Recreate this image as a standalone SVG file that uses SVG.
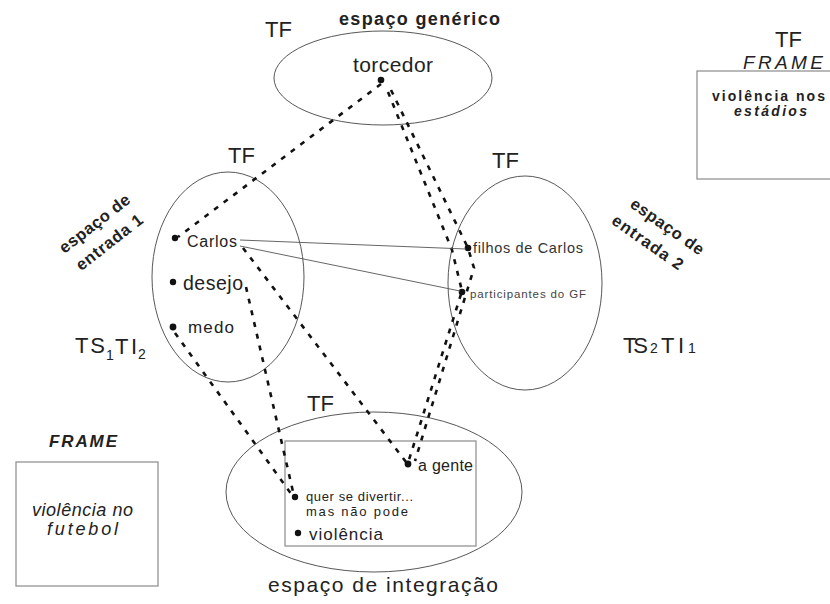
<svg xmlns="http://www.w3.org/2000/svg" width="830" height="604" viewBox="0 0 830 604">
<style>
text{font-family:"Liberation Sans",Arial,sans-serif;fill:#222}
.b{font-weight:bold}
.i{font-style:italic}
.tf{font-size:22px}
.ell{fill:none;stroke:#444;stroke-width:0.9}
.box{fill:none;stroke:#8a8a8a;stroke-width:1.2}
.dash{fill:none;stroke:#111;stroke-width:2.6;stroke-dasharray:5 7}
.thin{fill:none;stroke:#555;stroke-width:0.9}
.dot{fill:#111}
</style>
<rect width="830" height="604" fill="#fff"/>

<g id="generic">
  <ellipse class="ell" cx="383" cy="78" rx="109" ry="47"/>
  <text class="tf" x="265" y="37">TF</text>
  <text class="b" x="339" y="25" font-size="18" textLength="161" lengthAdjust="spacing">espaço genérico</text>
  <text x="353" y="72" font-size="21" textLength="80" lengthAdjust="spacing">torcedor</text>
  <circle class="dot" cx="381" cy="80" r="3.3"/>
</g>

<g id="input1">
  <ellipse class="ell" cx="228" cy="277" rx="76" ry="105"/>
  <text class="tf" x="228" y="163">TF</text>
  <g transform="translate(95,224) rotate(-38)">
    <text class="b" x="0" y="5" font-size="16.5" text-anchor="middle" textLength="85" lengthAdjust="spacing">espaço de</text>
  </g>
  <g transform="translate(109,242) rotate(-38)">
    <text class="b" x="0" y="6" font-size="16.5" text-anchor="middle" textLength="80" lengthAdjust="spacing">entrada 1</text>
  </g>
  <circle class="dot" cx="175" cy="238" r="3.2"/>
  <text x="187" y="247" font-size="16" textLength="50" lengthAdjust="spacing">Carlos</text>
  <circle class="dot" cx="173" cy="282" r="3.2"/>
  <text x="183" y="290" font-size="19.5" textLength="60" lengthAdjust="spacing">desejo</text>
  <circle class="dot" cx="173" cy="327" r="3.4"/>
  <text x="188" y="333" font-size="17" textLength="46" lengthAdjust="spacing">medo</text>
  <text font-size="22"><tspan x="75" y="353" textLength="30" lengthAdjust="spacing">TS</tspan><tspan x="106" y="360" font-size="14">1</tspan><tspan x="115" y="354" textLength="22" lengthAdjust="spacing">TI</tspan><tspan x="138" y="359" font-size="14">2</tspan></text>
</g>

<g id="input2">
  <ellipse class="ell" cx="525" cy="283" rx="77" ry="107"/>
  <text class="tf" x="492" y="168">TF</text>
  <g transform="translate(667,227) rotate(35)">
    <text class="b" x="0" y="5" font-size="16.5" text-anchor="middle" textLength="86" lengthAdjust="spacing">espaço de</text>
  </g>
  <g transform="translate(648,242) rotate(35)">
    <text class="b" x="0" y="6" font-size="16.5" text-anchor="middle" textLength="83" lengthAdjust="spacing">entrada 2</text>
  </g>
  <circle class="dot" cx="468" cy="248" r="3.3"/>
  <text x="473" y="253" font-size="14.5" style="fill:#333" textLength="110" lengthAdjust="spacing">filhos de Carlos</text>
  <circle class="dot" cx="462" cy="292" r="3.3"/>
  <text x="470" y="298" font-size="11.5" textLength="116" lengthAdjust="spacing" style="fill:#444">participantes do GF</text>
  <text font-size="22"><tspan x="623" y="353" textLength="25" lengthAdjust="spacing">TS</tspan><tspan x="650" y="353" font-size="14">2</tspan><tspan x="661" y="353" textLength="23" lengthAdjust="spacing">TI</tspan><tspan x="688" y="353" font-size="14">1</tspan></text>
</g>

<g id="integration">
  <ellipse class="ell" cx="374" cy="492" rx="148" ry="80"/>
  <rect class="box" x="285" y="441" width="191" height="105"/>
  <text class="tf" x="307" y="411">TF</text>
  <circle class="dot" cx="408" cy="464" r="3.4"/>
  <text x="418" y="471" font-size="16" textLength="55" lengthAdjust="spacing">a gente</text>
  <circle class="dot" cx="295" cy="497" r="3.2"/>
  <text x="306" y="501" font-size="13" textLength="107" lengthAdjust="spacing">quer se divertir...</text>
  <text x="306" y="516" font-size="13" textLength="102" lengthAdjust="spacing">mas não pode</text>
  <circle class="dot" cx="298" cy="533" r="3.2"/>
  <text x="309" y="540" font-size="17" textLength="74" lengthAdjust="spacing">violência</text>
  <text x="268" y="592" font-size="21" textLength="230" lengthAdjust="spacing">espaço de integração</text>
</g>

<g id="frame-estadios">
  <text class="tf" x="775" y="47">TF</text>
  <text class="i" x="743" y="69" font-size="19" textLength="80" lengthAdjust="spacing">FRAME</text>
  <rect class="box" x="697" y="71" width="140" height="108"/>
  <text class="b" x="712" y="101" font-size="14" textLength="113" lengthAdjust="spacing">violência nos</text>
  <text class="b i" x="734" y="116" font-size="14" textLength="73" lengthAdjust="spacing">estádios</text>
</g>

<g id="frame-futebol">
  <text class="b i" x="49" y="447" font-size="17" textLength="68" lengthAdjust="spacing">FRAME</text>
  <rect class="box" x="16" y="462" width="142" height="124"/>
  <text class="i" x="32" y="516" font-size="18" textLength="101" lengthAdjust="spacing">violência no</text>
  <text class="i" x="47" y="535" font-size="18" textLength="71" lengthAdjust="spacing">futebol</text>
</g>

<g id="connectors">
  <line class="dash" x1="381" y1="84" x2="178" y2="237"/>
  <polyline class="dash" points="388,92 452,250 462,291 408,463"/>
  <polyline class="dash" points="391,90 468,248 474,268 415,461"/>
  <line class="dash" x1="243" y1="248" x2="406" y2="462"/>
  <line class="dash" x1="246" y1="287" x2="294" y2="496"/>
  <line class="dash" x1="175" y1="333" x2="292" y2="495"/>
  <line class="thin" x1="240" y1="240" x2="466" y2="249"/>
  <line class="thin" x1="240" y1="246" x2="460" y2="291"/>
</g>
</svg>
